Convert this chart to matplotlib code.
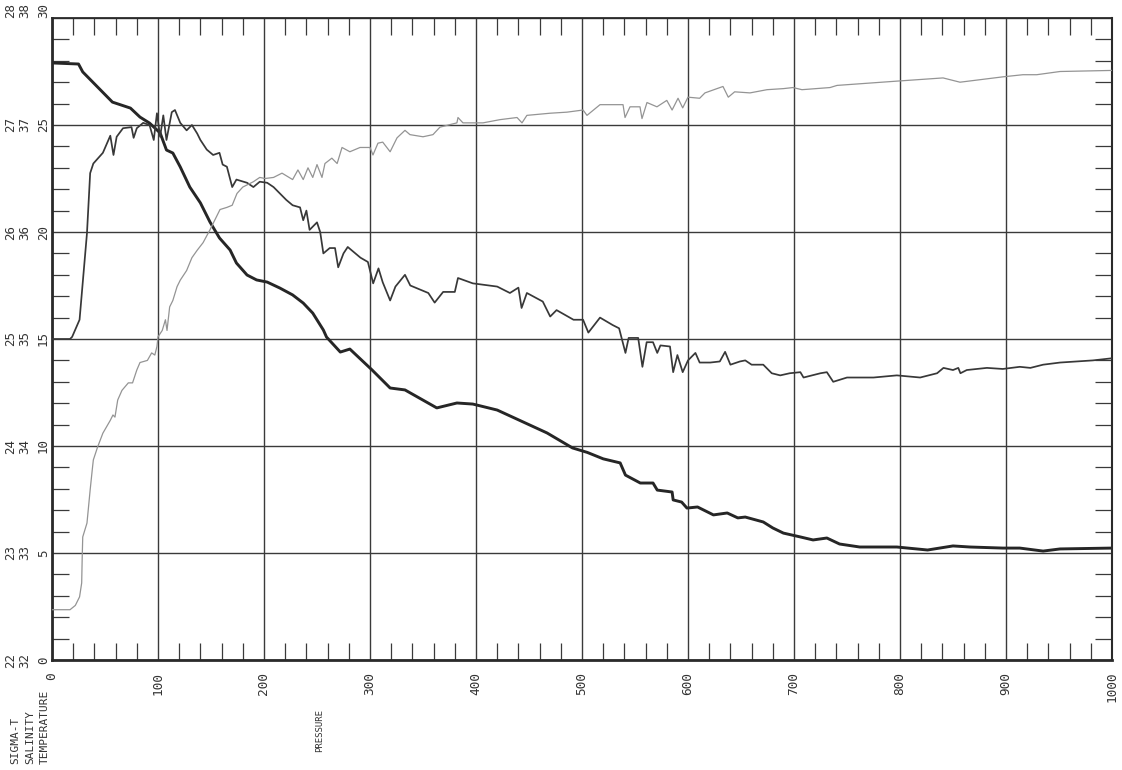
import matplotlib
matplotlib.use("Agg")
import matplotlib.pyplot as plt
from matplotlib.ticker import MultipleLocator

plt.rcParams["font.family"] = ["DejaVu Sans Mono"]

# Axis scales
pressure_ticks = [0, 100, 200, 300, 400, 500, 600, 700, 800, 900, 1000]
temperature_ticks = [0, 5, 10, 15, 20, 25, 30]
salinity_ticks = [32, 33, 34, 35, 36, 37, 38]
sigma_ticks = [22, 23, 24, 25, 26, 27, 28]

# Temperature profile (deg C vs pressure, dbar)
temp_pressure = [0, 25, 29, 57, 74, 83, 92, 102, 108, 114, 121, 130, 140, 149,
                 158, 168, 174, 184, 193, 203, 215, 227, 237, 246, 256, 259,
                 272, 281, 302, 319, 333, 363, 382, 397, 420, 467, 491, 505,
                 520, 536, 541, 555, 567, 571, 585, 586, 594, 599, 609, 624,
                 637, 647, 654, 671, 680, 690, 706, 718, 731, 743, 762, 797,
                 826, 850, 866, 897, 913, 935, 951, 1000]
temp_values = [27.90, 27.85, 27.48, 26.07, 25.79, 25.37, 25.09, 24.63, 23.83,
               23.69, 23.04, 22.10, 21.36, 20.47, 19.72, 19.16, 18.55, 17.99,
               17.76, 17.66, 17.38, 17.06, 16.68, 16.21, 15.42, 15.09, 14.39,
               14.53, 13.55, 12.71, 12.62, 11.78, 12.01, 11.96, 11.68, 10.61,
               9.91, 9.70, 9.40, 9.21, 8.64, 8.27, 8.27, 7.94, 7.85, 7.48,
               7.38, 7.10, 7.15, 6.78, 6.87, 6.64, 6.68, 6.45, 6.17, 5.93,
               5.75, 5.61, 5.70, 5.42, 5.28, 5.28, 5.14, 5.33, 5.28, 5.23,
               5.23, 5.09, 5.19, 5.23]

# Salinity profile
sal_pressure = [0, 17, 19, 26, 33, 36, 39, 48, 55, 58, 61, 67, 75, 77, 80, 86,
                92, 96, 99, 102, 105, 108, 113, 116, 121, 127, 132, 137, 140,
                146, 152, 158, 161, 165, 170, 174, 184, 190, 196, 203, 209,
                215, 221, 227, 234, 237, 240, 243, 250, 253, 256, 262, 267,
                270, 275, 279, 291, 298, 303, 308, 312, 319, 324, 333, 338,
                355, 361, 369, 380, 383, 397, 420, 432, 440, 443, 448, 463,
                470, 476, 492, 501, 506, 517, 529, 535, 541, 544, 553, 557,
                561, 567, 571, 574, 583, 586, 590, 595, 600, 607, 611, 621,
                630, 635, 640, 649, 654, 660, 671, 679, 687, 696, 706, 709,
                725, 731, 737, 750, 775, 797, 819, 835, 841, 850, 855, 857,
                863, 882, 897, 913, 923, 935, 951, 967, 982, 1000]
sal_values = [35.00, 35.00, 35.02, 35.18, 35.99, 36.55, 36.64, 36.74, 36.90,
              36.72, 36.89, 36.97, 36.98, 36.88, 36.97, 37.02, 37.00, 36.86,
              37.11, 36.89, 37.09, 36.86, 37.12, 37.14, 37.02, 36.95, 37.00,
              36.92, 36.86, 36.77, 36.72, 36.74, 36.63, 36.61, 36.42, 36.49,
              36.46, 36.42, 36.47, 36.46, 36.42, 36.36, 36.30, 36.25, 36.23,
              36.11, 36.20, 36.02, 36.09, 36.00, 35.80, 35.85, 35.85, 35.67,
              35.80, 35.86, 35.76, 35.72, 35.52, 35.66, 35.53, 35.36, 35.49,
              35.60, 35.50, 35.43, 35.34, 35.44, 35.44, 35.57, 35.52, 35.49,
              35.43, 35.48, 35.29, 35.43, 35.35, 35.21, 35.27, 35.18, 35.18,
              35.06, 35.20, 35.13, 35.10, 34.87, 35.01, 35.01, 34.74, 34.97,
              34.97, 34.87, 34.94, 34.93, 34.69, 34.85, 34.69, 34.80, 34.87,
              34.78, 34.78, 34.79, 34.88, 34.76, 34.79, 34.80, 34.76, 34.76,
              34.68, 34.66, 34.68, 34.69, 34.64, 34.68, 34.69, 34.60, 34.64,
              34.64, 34.66, 34.64, 34.68, 34.73, 34.71, 34.73, 34.68, 34.71,
              34.73, 34.72, 34.74, 34.73, 34.76, 34.78, 34.79, 34.80, 34.82]

# Density anomaly (sigma-t) profile
sigma_pressure = [0, 17, 22, 26, 28, 28.5, 29, 33, 36, 38, 39, 43, 48, 55,
                  57.5, 59.4, 62, 66, 72, 76, 80, 83, 90, 94, 97, 99, 100,
                  104, 107, 108.5, 111, 114, 118, 121, 127, 132, 137, 142.5,
                  149, 158.5, 165, 170, 174.5, 180, 190, 196, 201, 209, 217,
                  227, 232, 237, 241.5, 246, 250, 254.7, 257.5, 264, 269,
                  273.6, 281, 290.6, 300, 302.8, 307.5, 312, 319, 325.5, 333,
                  337.7, 350, 359.4, 366, 382, 383, 387.7, 406.6, 422.6,
                  438.7, 443.4, 448, 469.8, 485.8, 501, 504.7, 517, 538.7,
                  540.6, 545.3, 554.7, 556.6, 561.3, 570.7, 580, 585, 590.6,
                  595, 600, 611, 616, 633, 638, 644, 658.5, 674.5, 690, 699,
                  707.5, 734, 740.6, 797, 840.6, 856.6, 897, 916, 929, 951,
                  1000]
sigma_values = [22.47, 22.47, 22.51, 22.59, 22.72, 22.96, 23.15, 23.28, 23.59,
                23.78, 23.87, 23.99, 24.12, 24.24, 24.29, 24.27, 24.43, 24.52,
                24.59, 24.59, 24.71, 24.78, 24.80, 24.87, 24.85, 24.93, 25.02,
                25.08, 25.18, 25.08, 25.30, 25.36, 25.49, 25.55, 25.64, 25.76,
                25.83, 25.90, 26.02, 26.21, 26.23, 26.25, 26.36, 26.42, 26.47,
                26.51, 26.50, 26.51, 26.55, 26.49, 26.58, 26.49, 26.60, 26.51,
                26.63, 26.51, 26.64, 26.69, 26.64, 26.79, 26.75, 26.79, 26.79,
                26.72, 26.83, 26.84, 26.75, 26.88, 26.95, 26.91, 26.89, 26.91,
                26.98, 27.02, 27.07, 27.02, 27.02, 27.05, 27.07, 27.02, 27.09,
                27.11, 27.12, 27.14, 27.09, 27.19, 27.19, 27.07, 27.17, 27.17,
                27.06, 27.21, 27.17, 27.23, 27.14, 27.25, 27.16, 27.26, 27.25,
                27.30, 27.36, 27.26, 27.31, 27.30, 27.33, 27.34, 27.35, 27.33,
                27.35, 27.37, 27.41, 27.44, 27.40, 27.45, 27.47, 27.47, 27.50,
                27.51]

W, H = 1122, 770
fig = plt.figure(figsize=(W / 100, H / 100), dpi=100)
fig.patch.set_facecolor("white")

ax = fig.add_axes([52 / W, 1 - 660 / H, 1060 / W, 642 / H])
ax.set_xlim(pressure_ticks[0], pressure_ticks[-1])
ax.set_ylim(temperature_ticks[0], temperature_ticks[-1])

ax_s = ax.twinx()
ax_s.set_ylim(salinity_ticks[0], salinity_ticks[-1])
ax_g = ax.twinx()
ax_g.set_ylim(sigma_ticks[0], sigma_ticks[-1])
for a in (ax_s, ax_g):
    a.set_axis_off()

# grid and frame
ax.set_xticks(pressure_ticks)
ax.set_yticks(temperature_ticks)
ax.xaxis.set_minor_locator(MultipleLocator(20))
ax.yaxis.set_minor_locator(MultipleLocator(1))
ax.grid(True, which="major", color="#3a3a3a", lw=1.0)
ax.tick_params(which="both", direction="in", top=True, right=True,
               bottom=True, left=True)
ax.tick_params(which="major", length=0)
ax.tick_params(which="minor", length=12.2, width=0.9, color="#3a3a3a")
ax.tick_params(axis="y", labelleft=False)
ax.tick_params(axis="x", labelsize=9.2, pad=8.6, labelrotation=90,
               labelcolor="#333333")
ax.set_xticklabels([str(v) for v in pressure_ticks])

for side, lw in (("left", 2.0), ("bottom", 2.0), ("top", 1.3), ("right", 1.5)):
    ax.spines[side].set_linewidth(lw)
    ax.spines[side].set_color("#2a2a2a")

# profiles
ax_g.plot(sigma_pressure, sigma_values, color="#949494", lw=0.9,
          solid_joinstyle="round")
ax_s.plot(sal_pressure, sal_values, color="#383838", lw=1.25,
          solid_joinstyle="round")
ax.plot(temp_pressure, temp_values, color="#262626", lw=2.1,
        solid_joinstyle="round")

# stacked vertical scale labels
label_style = dict(rotation=90, ha="right", fontsize=9, color="#333333")
columns = ((ax_g, sigma_ticks, -35 / 1060),
           (ax_s, salinity_ticks, -21 / 1060),
           (ax, temperature_ticks, -2 / 1060))
for a, ticks, xoff in columns:
    tr = a.get_yaxis_transform()
    for v in ticks:
        va = "bottom" if v == ticks[-1] else "center"
        a.text(xoff, v, str(v), transform=tr, va=va, clip_on=False,
               **label_style)

# quantity names
name_style = dict(rotation=90, ha="center", va="bottom", fontsize=8,
                  color="#333333")
fig.text(15 / W, 1 - 764 / H, "SIGMA-T", **name_style)
fig.text(30 / W, 1 - 764 / H, "SALINITY", **name_style)
fig.text(45 / W, 1 - 764 / H, "TEMPERATURE", **name_style)
fig.text(320 / W, 1 - 752 / H, "PRESSURE", rotation=90, ha="center",
         va="bottom", fontsize=6.5, color="#333333")

fig.savefig("out.png", dpi=100, facecolor="white")
